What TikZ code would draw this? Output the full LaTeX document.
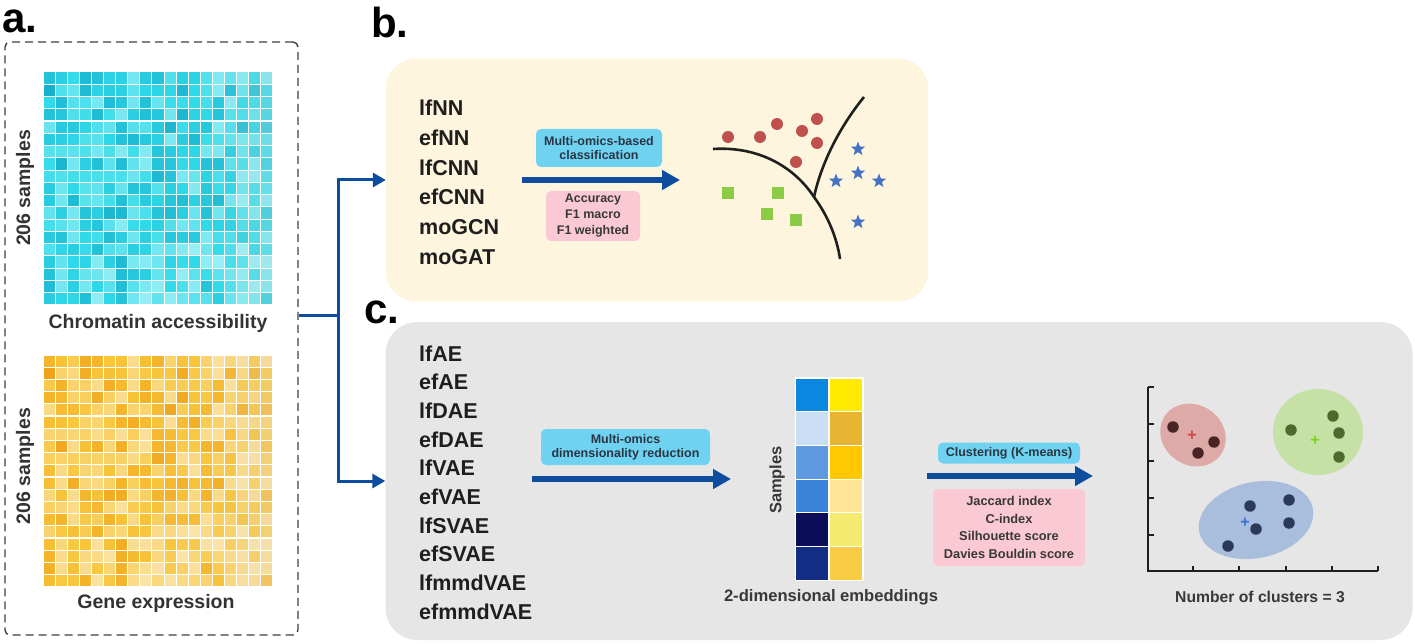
\documentclass[tikz,border=0pt]{standalone}
\usepackage{fontspec}
\setmainfont{Liberation Sans}
\usetikzlibrary{arrows.meta,shapes.geometric,calc}
\definecolor{cyl}{HTML}{A8F1F7}
\definecolor{cym}{HTML}{30DAE9}
\definecolor{cyd}{HTML}{14A8C8}
\definecolor{cyf}{HTML}{9ADCDE}
\definecolor{orl}{HTML}{FCE6B2}
\definecolor{orm}{HTML}{F8C53C}
\definecolor{ord}{HTML}{EE9A14}
\definecolor{orf}{HTML}{E8D6A6}
\definecolor{navy}{HTML}{0E4C9E}
\definecolor{ybox}{HTML}{FDF5DD}
\definecolor{gbox}{HTML}{E6E6E6}
\definecolor{labblue}{HTML}{70D2F1}
\definecolor{labpink}{HTML}{FBC9D4}
\definecolor{labtext}{HTML}{2A3644}
\definecolor{txt}{HTML}{1E1E1E}
\definecolor{ptred}{HTML}{C0504D}
\definecolor{ptgreen}{HTML}{8CCB45}
\definecolor{ptblue}{HTML}{4472C4}
\definecolor{e1}{HTML}{0A88E0}\definecolor{e2}{HTML}{C9DDF5}\definecolor{e3}{HTML}{5F9AE0}
\definecolor{e4}{HTML}{3A84DA}\definecolor{e5}{HTML}{0C0D58}\definecolor{e6}{HTML}{132C84}
\definecolor{f1}{HTML}{FFEA00}\definecolor{f2}{HTML}{E8B532}\definecolor{f3}{HTML}{FFC800}
\definecolor{f4}{HTML}{FFE598}\definecolor{f5}{HTML}{F5EA70}\definecolor{f6}{HTML}{F9CC45}
\definecolor{clred}{HTML}{DDAAA8}\definecolor{clgreen}{HTML}{C6E1A6}\definecolor{clblue}{HTML}{A9BDDD}
\definecolor{dpred}{HTML}{4A2424}\definecolor{dpgreen}{HTML}{4B6A2C}\definecolor{dpblue}{HTML}{2B3A58}
\definecolor{plred}{HTML}{D04545}\definecolor{plgreen}{HTML}{7ED321}\definecolor{plblue}{HTML}{3A6FD8}
\begin{document}
\begin{tikzpicture}[x=1pt,y=-1pt,
  listtxt/.style={anchor=base west,inner sep=0,font=\fontsize{21.5}{24}\selectfont\bfseries,text=txt},
  paneltag/.style={anchor=base west,inner sep=0,font=\fontsize{42}{44}\selectfont\bfseries,text=black},
  captxt/.style={inner sep=0,font=\fontsize{19.5}{22}\selectfont\bfseries,text=black!80},
  bluelab/.style={fill=labblue,rounded corners=5pt,inner sep=0,align=center,text=labtext,font=\fontsize{12.5}{14}\selectfont\bfseries},
  pinklab/.style={fill=labpink,rounded corners=5pt,inner sep=0,align=center,text=black!78,font=\fontsize{12.5}{16}\selectfont\bfseries},
  bigarrow/.style={navy,line width=6.5pt,-{Triangle[length=18pt,width=19pt]}},
  feed/.style={navy,line width=3pt},
  feedarrow/.style={navy,line width=3pt,-{Triangle[length=13pt,width=14pt]}},
  dot/.style={circle,inner sep=0,minimum size=12pt},
  sq/.style={rectangle,inner sep=0,minimum size=12pt,fill=ptgreen},
  st/.style={star,star points=5,star point ratio=2.4,inner sep=0,minimum size=15pt,fill=ptblue},
  cpt/.style={circle,inner sep=0,minimum size=11.5pt},
  plus/.style={inner sep=0,font=\fontsize{16}{16}\selectfont\bfseries}
]
\useasboundingbox (0,0) rectangle (1415,644);
\fill[white] (0,0) rectangle (1415,644);

% ---------------- panel a ----------------
\node[paneltag] (taga) at (2,33) {a.};
\node[draw=black!75,dashed,dash pattern=on 8pt off 5pt,line width=1.4pt,rounded corners=5pt,
  minimum width=293pt,minimum height=593pt,inner sep=0] (boxa) at (151.5,338.5) {};

\pgfmathsetseed{11}
\foreach \i in {0,...,18}{
  \foreach \j in {0,...,18}{
    \pgfmathsetmacro{\r}{min(1,max(0,0.72*rnd+0.28*(1-(\i+\j)/36)-0.02))}
    \pgfmathsetmacro{\pa}{min(100,200*\r)}
    \pgfmathsetmacro{\pb}{max(0,200*\r-100)}
    \pgfmathsetmacro{\ro}{\r^1.2}
    \pgfmathsetmacro{\qa}{min(100,200*\ro)}
    \pgfmathsetmacro{\qb}{max(0,200*\ro-100)}
    \pgfmathsetmacro{\fv}{100-max(0,(\i-14)*10)}
    \fill[cyd!\pb!cym!\pa!cyl!\fv!cyf] (43.5+\i*12.1,72.5+\j*12.26) rectangle ++(11.1,11.2);
    \fill[ord!\qb!orm!\qa!orl!\fv!orf] (43.5+\i*12.1,355.5+\j*12.2) rectangle ++(11.1,11.1);
  }
}
\node[captxt,rotate=90] (s1) at (25,188) {206 samples};
\node[captxt,rotate=90] (s2) at (25,466) {206 samples};
\node[captxt] (ca) at (158,323) {Chromatin accessibility};
\node[captxt] (ge) at (156,603) {Gene expression};

% ---------------- panel b ----------------
\node[paneltag] (tagb) at (371,38) {b.};
\node[fill=ybox,rounded corners=30pt,minimum width=542pt,minimum height=243pt,inner sep=0] (ybx) at (657,180) {};
\foreach \t [count=\k] in {lfNN,efNN,lfCNN,efCNN,moGCN,moGAT}{
  \node[listtxt] (b\k) at (419,{115.8+(\k-1)*29.7}) {\t};
}
\node[bluelab,minimum width=126pt,minimum height=38pt] (bl1) at (599,148) {Multi-omics-based\\classification};
\node[pinklab,minimum width=94pt,minimum height=50pt] (pk1) at (593,216) {Accuracy\\F1 macro\\F1 weighted};
\coordinate (ba0) at (522,180);
\coordinate (ba1) at (680,180);
\draw[bigarrow] (ba0) -- (ba1);

% decision boundaries
\coordinate (cv0) at (713,149);
\coordinate (cvj) at (814,197);
\coordinate (cv1) at (840,259);
\coordinate (cv2) at (864,97);
\draw[black!88,line width=2.6pt] (cv0) .. controls (760,146) and (795,168) .. (cvj) .. controls (828,216) and (837,238) .. (cv1);
\draw[black!88,line width=2.6pt] (cvj) .. controls (822,160) and (842,124) .. (cv2);
\foreach \x/\y [count=\k] in {728/137,760/137,777/124,802/131,817/119,817/143,796/162}{
  \node[dot,fill=ptred] (rd\k) at (\x,\y) {};
}
\foreach \x/\y [count=\k] in {728/193,778/193,767/214,796/220}{
  \node[sq] (gs\k) at (\x,\y) {};
}
\foreach \x/\y [count=\k] in {858/149,836/181,858/173,879/181,858/222}{
  \node[st] (bs\k) at (\x,\y) {};
}

% ---------------- panel c ----------------
\node[paneltag] (tagc) at (364,323) {c.};
\node[fill=gbox,rounded corners=32pt,minimum width=1027pt,minimum height=318pt,inner sep=0] (gbx) at (899,481) {};
\foreach \t [count=\k] in {lfAE,efAE,lfDAE,efDAE,lfVAE,efVAE,lfSVAE,efSVAE,lfmmdVAE,efmmdVAE}{
  \node[listtxt] (c\k) at (419,{361+(\k-1)*28.7}) {\t};
}
\node[bluelab,minimum width=169pt,minimum height=36pt] (bl2) at (625.5,447) {Multi-omics\\dimensionality reduction};
\coordinate (ca0) at (532,479);
\coordinate (ca1) at (731,479);
\draw[bigarrow] (ca0) -- (ca1);

% embeddings
\foreach \k in {1,...,6}{
  \fill[e\k,draw=white,line width=1.2pt] (795.5,{378+(\k-1)*33.7}) rectangle ++(33.5,33.7);
  \fill[f\k,draw=white,line width=1.2pt] (829.5,{378+(\k-1)*33.7}) rectangle ++(33.5,33.7);
}
\node[inner sep=0,font=\fontsize{16.5}{18}\selectfont\bfseries,text=black!78,rotate=90] (smp) at (777,480) {Samples};
\node[inner sep=0,font=\fontsize{16.6}{18}\selectfont\bfseries,text=black!78] (emb) at (831,597) {2-dimensional embeddings};

\node[bluelab,minimum width=142pt,minimum height=21pt] (bl3) at (1009,453) {Clustering (K-means)};
\coordinate (cb0) at (927,476);
\coordinate (cb1) at (1093,476);
\draw[bigarrow] (cb0) -- (cb1);
\node[pinklab,font=\fontsize{12.8}{17.6}\selectfont\bfseries,minimum width=152pt,minimum height=77pt] (pk2) at (1009,527.5) {Jaccard index\\C-index\\Silhouette score\\Davies Bouldin score};

% cluster plot
\fill[clred,rotate around={-35:(1193,435)}] (1193,435) ellipse [x radius=34pt,y radius=30pt];
\fill[clgreen] (1318,432) ellipse [x radius=45pt,y radius=43pt];
\fill[clblue,rotate around={12:(1256,520)}] (1256,520) ellipse [x radius=58pt,y radius=38pt];
\coordinate (ax0) at (1148,571);
\coordinate (axy) at (1148,387);
\coordinate (axx) at (1378,571);
\draw[black!88,line width=2pt] (axy) -- (ax0) -- (axx);
\foreach \yy in {387,424,461,498,535}{ \draw[black!88,line width=1.6pt] (1148,\yy) -- ++(6,0); }
\foreach \xx in {1193,1239,1286,1332,1378}{ \draw[black!88,line width=1.6pt] (\xx,571) -- ++(0,-5); }
\foreach \x/\y [count=\k] in {1173/427,1198/453,1214/442}{ \node[cpt,fill=dpred] (pr\k) at (\x,\y) {}; }
\foreach \x/\y [count=\k] in {1291/430,1333/416,1339/433,1339/457}{ \node[cpt,fill=dpgreen] (pg\k) at (\x,\y) {}; }
\foreach \x/\y [count=\k] in {1250/506,1289/500,1256/529,1289/523,1228/546}{ \node[cpt,fill=dpblue] (pb\k) at (\x,\y) {}; }
\node[plus,text=plred] (cr) at (1192,436) {+};
\node[plus,text=plgreen] (cg) at (1315,441) {+};
\node[plus,text=plblue] (cb) at (1245,523) {+};
\node[inner sep=0,font=\fontsize{15.7}{18}\selectfont\bfseries,text=black!78] (ncl) at (1260,597) {Number of clusters = 3};

% ---------------- feed connector ----------------
\coordinate (split) at (338,315);
\draw[feed] (boxa.east |- split) -- (split);
\draw[feedarrow] (split) |- (ybx.west);
\draw[feedarrow] (split) |- (gbx.west);
\end{tikzpicture}
\end{document}
